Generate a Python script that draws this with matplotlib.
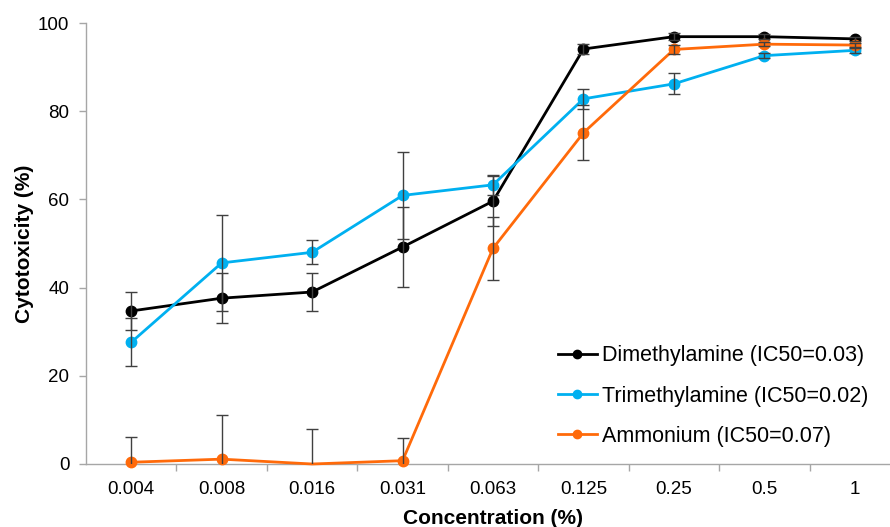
import matplotlib
matplotlib.use("Agg")
import matplotlib.pyplot as plt
import numpy as np

plt.rcParams["font.family"] = ["Liberation Sans", "DejaVu Sans"]

# --- data ---
concentrations = ["0.004", "0.008", "0.016", "0.031", "0.063", "0.125", "0.25", "0.5", "1"]

dimethylamine = [34.7, 37.6, 39.0, 49.2, 59.6, 94.1, 96.9, 96.9, 96.4]
dimethylamine_err = [4.3, 5.6, 4.4, 9.1, 5.7, 1.1, 0.8, 0.5, 0.5]

trimethylamine = [27.6, 45.6, 48.0, 60.9, 63.3, 82.8, 86.2, 92.6, 93.8]
trimethylamine_err = [5.4, 10.8, 2.7, 9.8, 2.3, 2.3, 2.4, 0.5, 0.5]

ammonium = [0.4, 1.1, 0.0, 0.75, 48.9, 75.1, 94.0, 95.2, 95.0]
ammonium_err = [5.7, 9.9, 7.9, 5.1, 7.2, 6.2, 1.0, 0.5, 0.5]

labels = ["Dimethylamine (IC50=0.03)", "Trimethylamine (IC50=0.02)", "Ammonium (IC50=0.07)"]
colors = ["#000000", "#00B0F0", "#FF6A0A"]

# --- plot ---
fig = plt.figure(figsize=(8.9, 5.27), dpi=100)
ax = fig.add_axes([86 / 890, 63 / 527, 814 / 890, 441 / 527])

x = np.arange(len(concentrations))
series = [dimethylamine, trimethylamine, ammonium]
errors = [dimethylamine_err, trimethylamine_err, ammonium_err]

for vals, err, col, lab in zip(series, errors, colors, labels):
    # the Excel chart hides the marker that sits exactly on zero
    shown = [i for i, v in enumerate(vals) if v > 0]
    ax.plot(x, vals, color=col, lw=2.0, marker="o", ms=7.5, markevery=shown,
            label=lab, zorder=3, clip_on=False)
    ax.errorbar(x, vals, yerr=err, fmt="none", ecolor="#404040", elinewidth=1.0,
                capsize=4.5, capthick=1.0, zorder=4)

ax.set_xlim(-0.5, len(concentrations) - 0.5)
ax.set_ylim(0, 100)
ax.set_yticks(np.arange(0, 101, 20))

ax.set_xticks(x)
ax.set_xticklabels(concentrations)
ax.set_xticks(np.arange(0.5, len(concentrations) - 0.5, 1), minor=True)
ax.tick_params(axis="x", which="major", length=0, pad=12, labelsize=13.5)
ax.tick_params(axis="x", which="minor", length=5, width=1, color="#a6a6a6", direction="out")
ax.tick_params(axis="y", length=5, width=1, color="#a6a6a6", pad=7, labelsize=13.5)

for side in ["top", "right"]:
    ax.spines[side].set_visible(False)
for side in ["left", "bottom"]:
    ax.spines[side].set_color("#a6a6a6")
    ax.spines[side].set_linewidth(1.0)

ax.set_xlabel("Concentration (%)", fontsize=15, fontweight="bold", labelpad=8)
ax.set_ylabel("Cytotoxicity (%)", fontsize=15, fontweight="bold", labelpad=3)

ax.legend(loc="center left", bbox_to_anchor=(0.58, 0.154), frameon=False,
          fontsize=15.5, handlelength=1.8, handletextpad=0.25, borderpad=0,
          borderaxespad=0, labelspacing=0.9, markerscale=0.8)

fig.savefig("out.png", dpi=100)
